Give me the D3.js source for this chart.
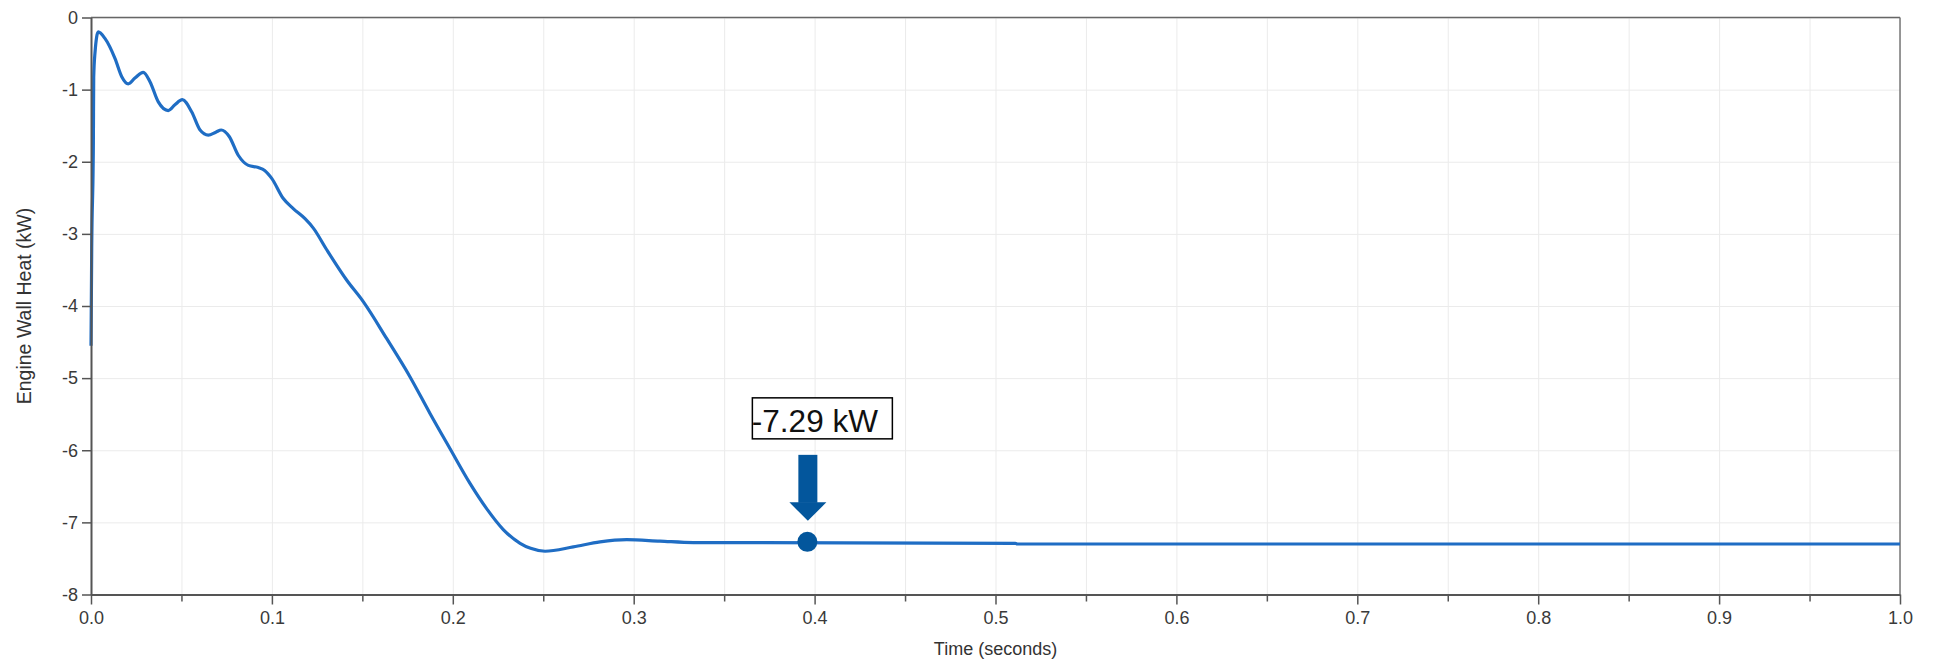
<!DOCTYPE html>
<html>
<head>
<meta charset="utf-8">
<script src="https://cdn.jsdelivr.net/npm/d3@7"></script>
<style>
  html, body { margin: 0; padding: 0; background: #fff; }
  svg { display: block; }
</style>
</head>
<body>
<div id="chart"></div>
<script>
// ============================================================
// DATA — engine wall heat vs time
// ============================================================
const timeValues = [
  0, 0.0004, 0.0013, 0.0015, 0.0022, 0.0040, 0.0077, 0.0133, 0.0170, 0.0206,
  0.0243, 0.0289, 0.0326, 0.0372, 0.0427, 0.0464, 0.0505, 0.0557, 0.0603, 0.0648,
  0.0690, 0.0720, 0.0764, 0.0814, 0.0870, 0.0925, 0.0960, 0.0999, 0.1063, 0.1118,
  0.1183, 0.1229, 0.1303, 0.1413, 0.1505, 0.1634, 0.1763, 0.1874, 0.1985, 0.2095,
  0.2187, 0.2279, 0.2372, 0.2430, 0.2510, 0.2666, 0.2814, 0.2961, 0.3145, 0.3330,
  0.3624, 0.5110, 0.5120, 1.0
];
const heatValues = [
  -4.55, -3.2, -1.77, -0.83, -0.49, -0.20, -0.29, -0.57, -0.82, -0.92,
  -0.84, -0.76, -0.89, -1.17, -1.29, -1.21, -1.14, -1.31, -1.56, -1.63,
  -1.59, -1.56, -1.65, -1.91, -2.05, -2.08, -2.12, -2.23, -2.51, -2.65,
  -2.79, -2.92, -3.22, -3.64, -3.94, -4.45, -4.98, -5.49, -5.98, -6.46,
  -6.81, -7.10, -7.29, -7.36, -7.40, -7.34, -7.27, -7.24, -7.26, -7.28,
  -7.28, -7.29, -7.30, -7.30
];

const xTicks = [0, 0.1, 0.2, 0.3, 0.4, 0.5, 0.6, 0.7, 0.8, 0.9, 1.0];
const xMinorTicks = [0.05, 0.15, 0.25, 0.35, 0.45, 0.55, 0.65, 0.75, 0.85, 0.95];
const yTicks = [0, -1, -2, -3, -4, -5, -6, -7, -8];

const markerTime = 0.396;
const markerHeat = -7.27;
const markerLabel = '-7.29 kW';

// ============================================================
// CHART
// ============================================================
const svgW = 1936, svgH = 663;
const margin = { top: 17.5, right: 36, bottom: 68.5, left: 91 };
const w = svgW - margin.left - margin.right;
const h = svgH - margin.top - margin.bottom;
const font = 'Arial, "Liberation Sans", sans-serif';

const svg = d3.select('#chart')
  .append('svg')
  .attr('width', svgW)
  .attr('height', svgH);

svg.append('rect').attr('width', svgW).attr('height', svgH).attr('fill', '#fff');

const g = svg.append('g')
  .attr('transform', `translate(${margin.left}, ${margin.top})`);

const xScale = d3.scaleLinear().domain([0, 1]).range([0, w]);
const yScale = d3.scaleLinear().domain([-8, 0]).range([h, 0]);

// ---- GRID LINES ----
g.append('g')
  .call(d3.axisBottom(xScale).tickValues(xTicks.concat(xMinorTicks)).tickSize(h).tickFormat(''))
  .call(g => g.select('.domain').remove())
  .call(g => g.selectAll('line').style('stroke', '#ebebeb').style('stroke-width', 1));

g.append('g')
  .call(d3.axisLeft(yScale).tickValues(yTicks).tickSize(-w).tickFormat(''))
  .call(g => g.select('.domain').remove())
  .call(g => g.selectAll('line').style('stroke', '#ebebeb').style('stroke-width', 1));

// ---- FRAME (top + right) ----
g.append('line')
  .attr('x1', 0).attr('x2', w).attr('y1', 0).attr('y2', 0)
  .style('stroke', '#666').style('stroke-width', 1.5);
g.append('line')
  .attr('x1', w).attr('x2', w).attr('y1', 0).attr('y2', h)
  .style('stroke', '#777').style('stroke-width', 1.5);

// ---- LINE ----
const series = timeValues.map((t, i) => ({ t, v: heatValues[i] }));
const line = d3.line()
  .x(d => xScale(d.t))
  .y(d => yScale(d.v))
  .curve(d3.curveMonotoneX);

g.append('path')
  .datum(series)
  .attr('d', line)
  .attr('fill', 'none')
  .attr('stroke', '#1f6dc4')
  .attr('stroke-width', 3.2)
  .attr('stroke-linejoin', 'round');

// ---- X AXIS (minor ticks, then major with labels) ----
g.append('g')
  .attr('transform', `translate(0, ${h})`)
  .call(d3.axisBottom(xScale).tickValues(xMinorTicks).tickSize(7).tickFormat(''))
  .call(g => g.select('.domain').remove())
  .call(g => g.selectAll('line').style('stroke', '#555').style('stroke-width', 1.5));

g.append('g')
  .attr('transform', `translate(0, ${h})`)
  .call(d3.axisBottom(xScale).tickValues(xTicks).tickSize(10).tickSizeOuter(0).tickPadding(7)
    .tickFormat(d3.format('.1f')))
  .call(g => g.select('.domain').style('stroke', '#555').style('stroke-width', 2))
  .call(g => g.selectAll('.tick line').style('stroke', '#555').style('stroke-width', 1.5))
  .call(g => g.selectAll('text')
    .style('font-family', font)
    .style('font-size', '18px')
    .style('fill', '#3a3a3a'));

// ---- Y AXIS ----
g.append('g')
  .call(d3.axisLeft(yScale).tickValues(yTicks).tickSize(9).tickSizeOuter(0).tickPadding(4)
    .tickFormat(d => String(d)))
  .call(g => g.select('.domain').style('stroke', '#555').style('stroke-width', 2))
  .call(g => g.selectAll('.tick line').style('stroke', '#555').style('stroke-width', 1.5))
  .call(g => g.selectAll('text')
    .style('font-family', font)
    .style('font-size', '18px')
    .style('fill', '#3a3a3a'));

// ---- AXIS LABELS ----
svg.append('text')
  .attr('x', margin.left + w / 2)
  .attr('y', 655)
  .attr('text-anchor', 'middle')
  .style('font-family', font)
  .style('font-size', '18px')
  .style('fill', '#333')
  .text('Time (seconds)');

svg.append('text')
  .attr('transform', `translate(30.5, ${margin.top + h / 2}) rotate(-90)`)
  .attr('text-anchor', 'middle')
  .style('font-family', font)
  .style('font-size', '19.5px')
  .style('fill', '#333')
  .text('Engine Wall Heat (kW)');

// ---- MARKER: dot, arrow and value box ----
const mx = xScale(markerTime);
const my = yScale(markerHeat);
const markColor = '#03569c';

g.append('circle')
  .attr('cx', mx).attr('cy', my).attr('r', 10)
  .attr('fill', markColor);

// arrow shaft + head, pointing down at the dot
g.append('rect')
  .attr('x', mx - 9).attr('y', my - 87)
  .attr('width', 19).attr('height', 48)
  .attr('fill', markColor);

g.append('path')
  .attr('d', `M${mx - 18},${my - 39.5} L${mx + 19},${my - 39.5} L${mx + 0.5},${my - 21} Z`)
  .attr('fill', markColor);

// value box (the minus sign sits on the left border, as in the original)
g.append('rect')
  .attr('x', mx - 55).attr('y', my - 144)
  .attr('width', 140).attr('height', 41)
  .attr('fill', '#fff')
  .attr('stroke', '#000')
  .attr('stroke-width', 1.5);

g.append('text')
  .attr('x', mx - 55.5).attr('y', my - 110)
  .style('font-family', font)
  .style('font-size', '31.5px')
  .style('fill', '#111')
  .text(markerLabel);
</script>
</body>
</html>
